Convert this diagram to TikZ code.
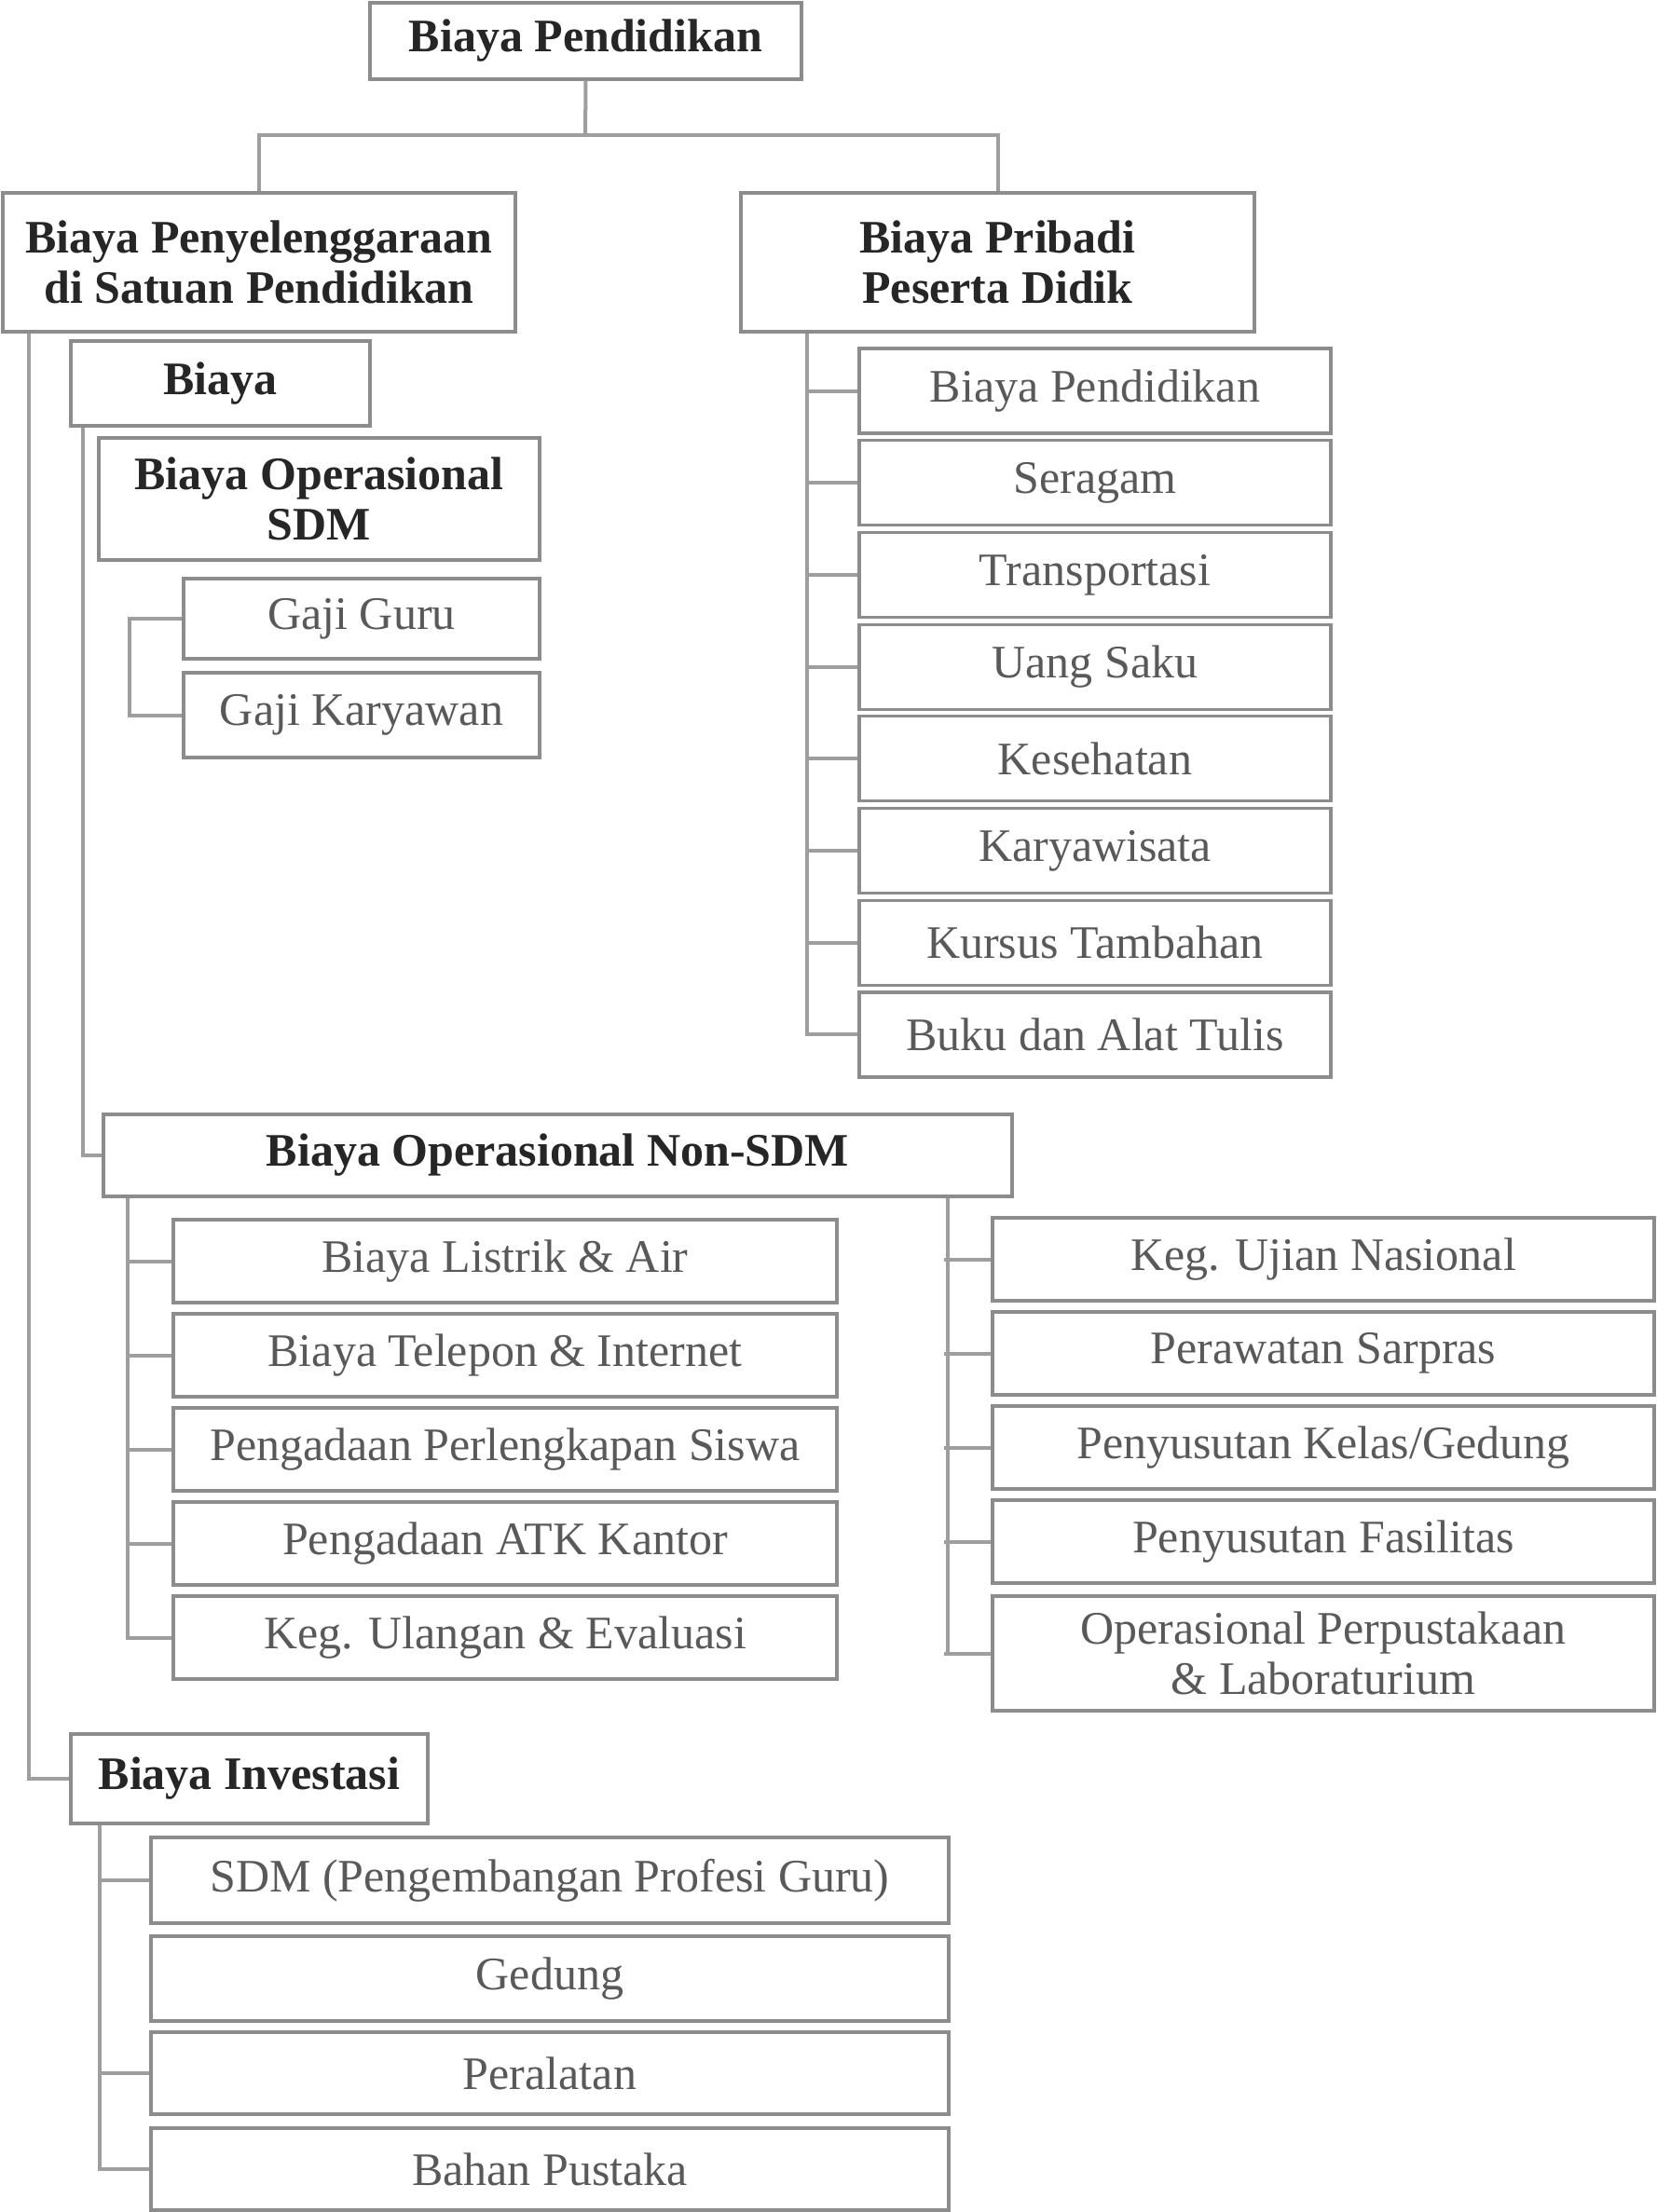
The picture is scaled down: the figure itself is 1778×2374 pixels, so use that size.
\documentclass[tikz,border=0pt]{standalone}
\usepackage{fontspec}
\setmainfont{Liberation Serif}
\tikzset{
  box/.style={draw=black!45, line width=1.6pt, fill=white, inner sep=0pt, align=center,
    font=\fontsize{25}{27}\selectfont, text=black!65},
  head/.style={font=\fontsize{25}{27}\selectfont\bfseries, text=black!85},
  conn/.style={draw=black!38, line width=2pt}
}
\newcommand{\bx}[7][]{%
  \pgfmathsetmacro\cx{(#3+#5)/2}\pgfmathsetmacro\cy{(#4+#6)/2}%
  \pgfmathsetmacro\ww{(#5-#3)*0.5}\pgfmathsetmacro\hh{(#6-#4)*0.5}%
  \node[box,#1,minimum width=\ww pt,minimum height=\hh pt] (#2) at (\cx,\cy) {#7};}
\begin{document}
\begin{tikzpicture}[x=0.5pt,y=-0.5pt]
\useasboundingbox[fill=white] (0,0) rectangle (1778,2374);
% top levels
\bx[head]{top}{397}{3}{860}{85}{Biaya Pendidikan}
\bx[head]{peny}{3}{207}{553}{356}{Biaya Penyelenggaraan\\di Satuan Pendidikan}
\bx[head]{prib}{795}{207}{1346}{356}{Biaya Pribadi\\Peserta Didik}
\coordinate (j1) at (628,147);
\draw[conn] (top.south) -- (j1);
\draw[conn] (peny.north) -- ++(0,-60) -| (prib.north);
% left side
\bx[head]{bia}{76}{366}{397}{457}{Biaya}
\bx[head]{opsdm}{106}{470}{579}{601}{Biaya Operasional\\SDM}
\bx{guru}{197}{621}{579}{707}{Gaji Guru}
\bx{kary}{197}{722}{579}{813}{Gaji Karyawan}
\draw[conn] (guru.west) -- ++(-56,0) |- (kary.west);
% pribadi children
\foreach \t [count=\i from 0] in {Biaya Pendidikan,Seragam,Transportasi,Uang Saku,Kesehatan,Karyawisata,Kursus Tambahan,Buku dan Alat Tulis}{
  \pgfmathsetmacro\ya{374+98.7*\i}\pgfmathsetmacro\yb{\ya+91}
  \bx{r\i}{922}{\ya}{1428}{\yb}{\t}
  \draw[conn] (r\i.west) -- ++(-54,0);
}
\draw[conn] ([xshift=36.5pt]prib.south west) |- (r7.west);
% non-SDM
\bx[head]{nonsdm}{111}{1196}{1086}{1284}{Biaya Operasional Non-SDM}
\bx[head]{inv}{76}{1861}{459}{1957}{Biaya Investasi}
\draw[conn] ([xshift=15pt]peny.south west) |- (inv.west);
\draw[conn] ([xshift=7.5pt]bia.south west) |- (nonsdm.west);
\foreach \t [count=\i from 0] in {Biaya Listrik \& Air,Biaya Telepon \& Internet,Pengadaan Perlengkapan Siswa,Pengadaan ATK Kantor,Keg. Ulangan \& Evaluasi}{
  \pgfmathsetmacro\ya{1309+101*\i}\pgfmathsetmacro\yb{\ya+89}
  \bx{a\i}{186}{\ya}{898}{\yb}{\t}
  \draw[conn] (a\i.west) -- ++(-47,0);
}
\draw[conn] ([xshift=14pt]nonsdm.south west) |- (a4.west);
\foreach \t [count=\i from 0] in {Keg. Ujian Nasional,Perawatan Sarpras,Penyusutan Kelas/Gedung,Penyusutan Fasilitas}{
  \pgfmathsetmacro\ya{1307+101*\i}\pgfmathsetmacro\yb{\ya+89}
  \bx{b\i}{1065}{\ya}{1775}{\yb}{\t}
  \draw[conn] (b\i.west) -- ++(-50,0);
}
\bx{b4}{1065}{1713}{1775}{1836}{Operasional Perpustakaan\\\& Laboraturium}
\draw[conn] (b4.west) -- ++(-50,0);
\draw[conn] ([xshift=-35.5pt]nonsdm.south east) |- (b4.west);
% investasi children
\bx{c0}{162}{1972}{1018}{2064}{SDM (Pengembangan Profesi Guru)}
\bx{c1}{162}{2078}{1018}{2169}{Gedung}
\bx{c2}{162}{2181}{1018}{2269}{Peralatan}
\bx{c3}{162}{2284}{1018}{2372}{Bahan Pustaka}
\draw[conn] ([xshift=16.5pt]inv.south west) |- (c3.west);
\draw[conn] (c0.west) -- ++(-53,0);
\draw[conn] (c2.west) -- ++(-53,0);
\end{tikzpicture}
\end{document}
